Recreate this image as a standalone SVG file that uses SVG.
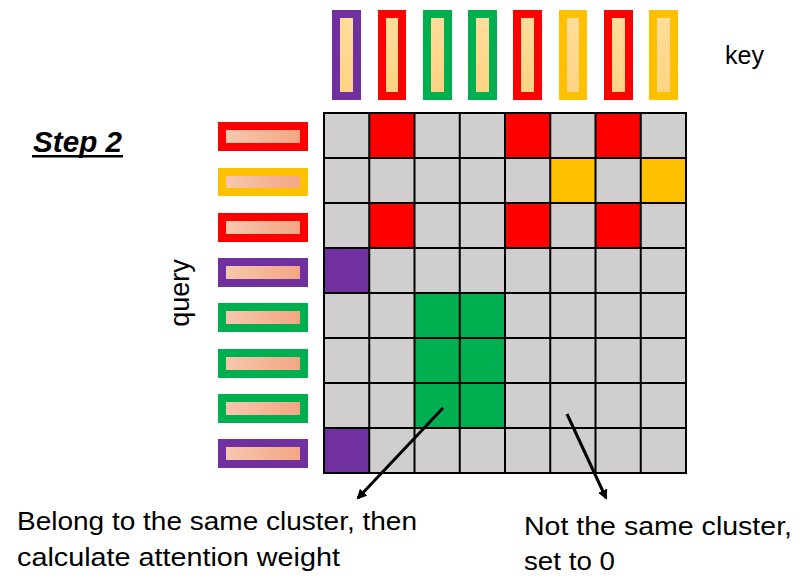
<svg xmlns="http://www.w3.org/2000/svg" width="808" height="579" viewBox="0 0 808 579">
<defs>
<linearGradient id="kg" x1="0" y1="0" x2="0" y2="1"><stop offset="0" stop-color="#FFDD9B"/><stop offset="1" stop-color="#FFD383"/></linearGradient>
<linearGradient id="qg" x1="0" y1="0" x2="1" y2="0"><stop offset="0" stop-color="#F6C7AD"/><stop offset="1" stop-color="#F4A683"/></linearGradient>
<marker id="ah" markerWidth="10" markerHeight="10" refX="8" refY="5" orient="auto" markerUnits="userSpaceOnUse"><path d="M0,0 L10,5 L0,10 z" fill="#000"/></marker>
<style>
.t{font-family:"Liberation Sans",Arial,sans-serif;fill:#000}
.kin{fill:url(#kg)}
.qin{fill:url(#qg)}
.red{fill:#FF0000}.yel{fill:#FFC000}.grn{fill:#00B050}.pur{fill:#7030A0}
.cell{fill:#D0CECE}
.gl{stroke:#000;stroke-width:2;fill:none}
.arr{stroke:#000;stroke-width:3;fill:none;marker-end:url(#ah)}
</style>
</defs>
<rect width="808" height="579" fill="#fff"/>
<g id="keys">
<g id="k0"><rect x="332" y="10" width="29" height="90" class="pur"/><rect x="340" y="18" width="13" height="74" class="kin"/></g>
<g id="k1"><rect x="378" y="10" width="28" height="90" class="red"/><rect x="386" y="18" width="12" height="74" class="kin"/></g>
<g id="k2"><rect x="423" y="10" width="29" height="90" class="grn"/><rect x="431" y="18" width="13" height="74" class="kin"/></g>
<g id="k3"><rect x="468" y="10" width="29" height="90" class="grn"/><rect x="476" y="18" width="13" height="74" class="kin"/></g>
<g id="k4"><rect x="513" y="10" width="29" height="90" class="red"/><rect x="521" y="18" width="13" height="74" class="kin"/></g>
<g id="k5"><rect x="559" y="10" width="28" height="90" class="yel"/><rect x="567" y="18" width="12" height="74" class="kin"/></g>
<g id="k6"><rect x="604" y="10" width="29" height="90" class="red"/><rect x="612" y="18" width="13" height="74" class="kin"/></g>
<g id="k7"><rect x="649" y="10" width="29" height="90" class="yel"/><rect x="657" y="18" width="13" height="74" class="kin"/></g>
</g>
<g id="queries">
<g id="q0"><rect x="218" y="122" width="90" height="29" class="red"/><rect x="226" y="130" width="74" height="13" class="qin"/></g>
<g id="q1"><rect x="218" y="168" width="90" height="28" class="yel"/><rect x="226" y="176" width="74" height="12" class="qin"/></g>
<g id="q2"><rect x="218" y="213" width="90" height="29" class="red"/><rect x="226" y="221" width="74" height="13" class="qin"/></g>
<g id="q3"><rect x="218" y="258" width="90" height="29" class="pur"/><rect x="226" y="266" width="74" height="13" class="qin"/></g>
<g id="q4"><rect x="218" y="303" width="90" height="29" class="grn"/><rect x="226" y="311" width="74" height="13" class="qin"/></g>
<g id="q5"><rect x="218" y="349" width="90" height="29" class="grn"/><rect x="226" y="357" width="74" height="13" class="qin"/></g>
<g id="q6"><rect x="218" y="394" width="90" height="29" class="grn"/><rect x="226" y="402" width="74" height="13" class="qin"/></g>
<g id="q7"><rect x="218" y="439" width="90" height="29" class="pur"/><rect x="226" y="447" width="74" height="13" class="qin"/></g>
</g>
<g id="grid">
<rect x="324" y="113" width="362" height="360" class="cell"/>
<rect x="369.25" y="113" width="45.25" height="45" class="red"/>
<rect x="505" y="113" width="45.25" height="45" class="red"/>
<rect x="595.5" y="113" width="45.25" height="45" class="red"/>
<rect x="550.25" y="158" width="45.25" height="45" class="yel"/>
<rect x="640.75" y="158" width="45.25" height="45" class="yel"/>
<rect x="369.25" y="203" width="45.25" height="45" class="red"/>
<rect x="505" y="203" width="45.25" height="45" class="red"/>
<rect x="595.5" y="203" width="45.25" height="45" class="red"/>
<rect x="324" y="248" width="45.25" height="45" class="pur"/>
<rect x="414.5" y="293" width="90.5" height="135" class="grn"/>
<rect x="324" y="428" width="45.25" height="45" class="pur"/>
<path class="gl" d="M324,113H686V473H324Z M369.25,113V473 M414.5,113V473 M459.75,113V473 M505,113V473 M550.25,113V473 M595.5,113V473 M640.75,113V473 M324,158H686 M324,203H686 M324,248H686 M324,293H686 M324,338H686 M324,383H686 M324,428H686"/>
</g>
<g id="connectors">
<line class="arr" x1="443" y1="408" x2="358" y2="498"/>
<line class="arr" x1="567" y1="414" x2="606" y2="498"/>
</g>
<g id="labels">
<text class="t" x="725" y="64" font-size="25">key</text>
<text class="t" x="0" y="0" font-size="27" transform="translate(189,293) rotate(-90)" text-anchor="middle">query</text>
<text class="t" x="33" y="152" font-size="30" font-weight="bold" font-style="italic" textLength="89" lengthAdjust="spacingAndGlyphs">Step 2</text>
<rect x="32" y="155" width="91" height="2.5" fill="#000"/>
<text class="t" x="17" y="530" font-size="25" textLength="400" lengthAdjust="spacingAndGlyphs">Belong to the same cluster, then</text>
<text class="t" x="17" y="566" font-size="25" textLength="323" lengthAdjust="spacingAndGlyphs">calculate attention weight</text>
<text class="t" x="524" y="535" font-size="25" textLength="268" lengthAdjust="spacingAndGlyphs">Not the same cluster,</text>
<text class="t" x="524" y="570" font-size="25" textLength="91" lengthAdjust="spacingAndGlyphs">set to 0</text>
</g>
</svg>
